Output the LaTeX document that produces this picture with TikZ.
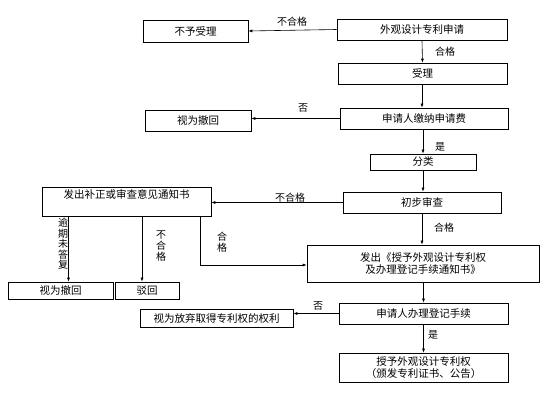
\documentclass[tikz,border=0pt]{standalone}
\usepackage{fontspec}
\setmainfont{Noto Sans CJK SC}
\usetikzlibrary{arrows.meta}
\begin{document}
\begin{tikzpicture}[x=1pt,y=-1pt,font=\fontsize{10.5}{12}\selectfont,
  box/.style={draw,line width=0.6pt,inner sep=0pt,align=center},
  arr/.style={draw,line width=0.6pt,-{Latex[length=4pt,width=3pt]}},
  ln/.style={draw,line width=0.6pt},
  lab/.style={inner sep=1pt,font=\fontsize{10}{11}\selectfont}]
\useasboundingbox (0,0) rectangle (558,401);
\node[box,minimum width=170pt,minimum height=21pt] (app) at (422,29.5) {外观设计专利申请};
\node[box,minimum width=105pt,minimum height=22pt] (rej) at (195.5,31) {不予受理};
\node[box,minimum width=169pt,minimum height=21pt] (acc) at (422.5,73.5) {受理};
\node[box,minimum width=168pt,minimum height=21pt] (fee) at (424,118.5) {申请人缴纳申请费};
\node[box,minimum width=106pt,minimum height=21pt] (wda) at (198,120.5) {视为撤回};
\node[box,minimum width=106pt,minimum height=16pt] (cls) at (423,162) {分类};
\node[box,minimum width=158pt,minimum height=21pt] (pre) at (422,202.5) {初步审查};
\node[box,minimum width=169pt,minimum height=29pt,text depth=14pt] (note) at (126.5,201.5) {发出补正或审查意见通知书};
\node[box,minimum width=232pt,minimum height=37pt] (gn) at (423,263.5) {发出《授予外观设计专利权\\及办理登记手续通知书》};
\node[box,minimum width=169pt,minimum height=21pt] (reg) at (423.5,313.5) {申请人办理登记手续};
\node[box,minimum width=169pt,minimum height=29pt] (fin) at (423.5,367.5) {授予外观设计专利权\\（颁发专利证书、公告）};
\node[box,minimum width=153pt,minimum height=18pt] (ab) at (216.5,318) {视为放弃取得专利权的权利};
\node[box,minimum width=105pt,minimum height=17pt] (wdb) at (60.5,290.5) {视为撤回};
\node[box,minimum width=64pt,minimum height=17pt] (rj) at (147,290.5) {驳回};
\coordinate (c1) at (200,265);
\draw[arr] (app.west) -- (rej.east);
\draw[arr] (app.south) -- (acc.north);
\draw[arr] (acc.south -| app.south) -- (fee.north -| app.south);
\draw[arr] (fee.west) -- (wda.east |- fee.west);
\draw[arr] (fee.south -| cls.north) -- (cls.north);
\draw[arr] (cls.south) -- (cls.south |- pre.north);
\draw[arr] (pre.west) -- (note.east |- pre.west);
\draw[arr] (pre.south) -- (pre.south |- gn.north);
\draw[ln] (note.south -| c1) -- (c1);
\draw[arr] (c1) -- (c1 -| gn.west);
\draw[arr] (note.south -| wdb.north) ++(8,0) coordinate (d1) -- (d1 |- wdb.north);
\draw[arr] (note.south -| rj.north) ++(-5,0) coordinate (d2) -- (d2 |- rj.north);
\draw[arr] (gn.south -| reg.north) -- (reg.north);
\draw[arr] (reg.west) -- (ab.east |- reg.west);
\draw[arr] (reg.south) -- (fin.north);
\node[lab] (l1) at (292,22) {不合格};
\node[lab] (l2) at (445,52) {合格};
\node[lab] (l3) at (303,108) {否};
\node[lab] (l4) at (440,147) {是};
\node[lab] (l5) at (290,198) {不合格};
\node[lab] (l6) at (444,228) {合格};
\node[lab,align=center,font=\fontsize{10}{11}\selectfont] (l7) at (222,242) {合\\格};
\node[lab,align=center,font=\fontsize{10}{11}\selectfont] (l8) at (161,246) {不\\合\\格};
\node[lab,align=center,font=\fontsize{10}{10.5}\selectfont] (l9) at (63,244) {逾\\期\\未\\答\\复};
\node[lab] (l10) at (318,306) {否};
\node[lab] (l11) at (433,335) {是};
\end{tikzpicture}
\end{document}
